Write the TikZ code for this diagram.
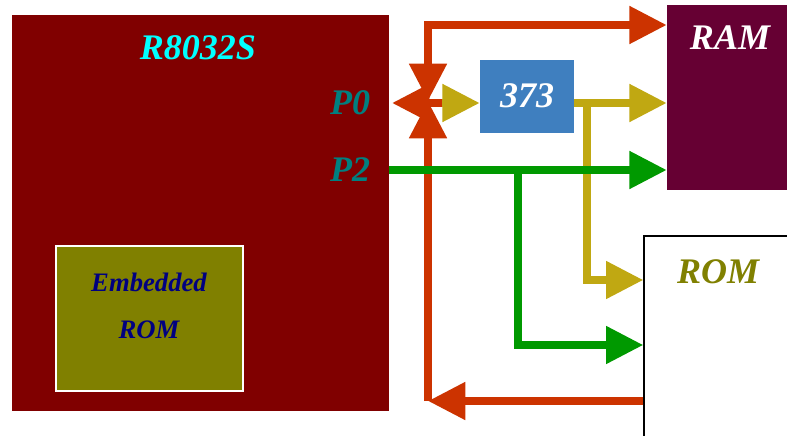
\documentclass[tikz,border=0pt]{standalone}
\usepackage{fontspec}
\setmainfont{Liberation Serif}
\usepackage{xcolor}
\usetikzlibrary{arrows.meta}
\definecolor{chipred}{HTML}{800000}
\definecolor{eromolive}{HTML}{808000}
\definecolor{latchblue}{HTML}{3F7FBF}
\definecolor{ramwine}{HTML}{660033}
\definecolor{busred}{HTML}{CC3300}
\definecolor{busolive}{HTML}{C0A812}
\definecolor{busgreen}{HTML}{009900}
\definecolor{portteal}{HTML}{008080}
\definecolor{titlecyan}{HTML}{00FFFF}
\definecolor{eromnavy}{HTML}{000080}
\newcommand{\bigfnt}{\fontsize{27}{30}\selectfont\bfseries\itshape}
\newcommand{\midfnt}{\fontsize{20}{24}\selectfont\bfseries\itshape}
\tikzset{
	blk/.style={inner sep=0, minimum width={#1*0.75pt}},
	bus/.style={line width=6pt, -{Triangle[length=28pt,width=27pt]}},
	twobus/.style={line width=6pt, {Triangle[length=28pt,width=27pt]}-{Triangle[length=28pt,width=27pt]}},
}
\begin{document}
\begin{tikzpicture}[x=0.75pt,y=-0.75pt]
	\clip (0,0) rectangle (787,435);
	\fill[white] (0,0) rectangle (787,435);
	% blocks
	\node[blk=377, minimum height={396*0.75pt}, fill=chipred] (chip) at (200.5,213) {};
	\node[blk=187, minimum height={145*0.75pt}, fill=eromolive, draw=white, line width=1.2pt] (erom) at (149.5,318.5) {};
	\node[blk=94, minimum height={73*0.75pt}, fill=latchblue] (latch) at (527,96.5) {};
	\node[blk=133, minimum height={185*0.75pt}, fill=ramwine] (ram) at (733.5,97.5) {};
	\node[blk=156, minimum height={209*0.75pt}, fill=white, draw=black, line width=1pt] (rom) at (722,340.5) {};
	% texts
	\node[text=titlecyan] (title) at (198,48) {\bigfnt R8032S};
	\node[text=portteal] (pzero) at (350,103) {\bigfnt P0};
	\node[text=portteal] (ptwo) at (350,170) {\bigfnt P2};
	\node[text=white] (latchlbl) at (527,96) {\bigfnt 373};
	\node[text=white] (ramlbl) at (730,38) {\bigfnt RAM};
	\node[text=eromolive] (romlbl) at (718,272) {\bigfnt ROM};
	\node[text=eromnavy] (eroma) at (149,282) {\midfnt Embedded};
	\node[text=eromnavy] (eromb) at (149,330) {\midfnt ROM};
	% bus points
	\coordinate (j) at (428,101);
	\coordinate (pin) at (392,103);
	\coordinate (stub) at (442,103);
	\coordinate (top) at (428,25);
	\coordinate (bot) at (428,401);
	\coordinate (ola) at (587,103);
	\coordinate (olb) at (587,280);
	\coordinate (gra) at (518,170);
	\coordinate (grb) at (518,345);
	% address/data bus
	\draw[twobus, busred] (j) -- (top) -- (ram.west |- top);
	\draw[bus, busred] (rom.west |- bot) -- (bot);
	\draw[bus, busred] (bot) -- (j);
	\draw[bus, busred] (stub) -- (pin);
	% latched address
	\draw[bus, busolive] (stub) -- (latch.west |- stub);
	\draw[bus, busolive] (latch.east |- ola) -- (ram.west |- ola);
	\draw[bus, busolive] (ola) -- (olb) -- (rom.west |- olb);
	% high address
	\draw[bus, busgreen] (chip.east |- gra) -- (ram.west |- gra);
	\draw[bus, busgreen] (gra) -- (grb) -- (rom.west |- grb);
\end{tikzpicture}
\end{document}
